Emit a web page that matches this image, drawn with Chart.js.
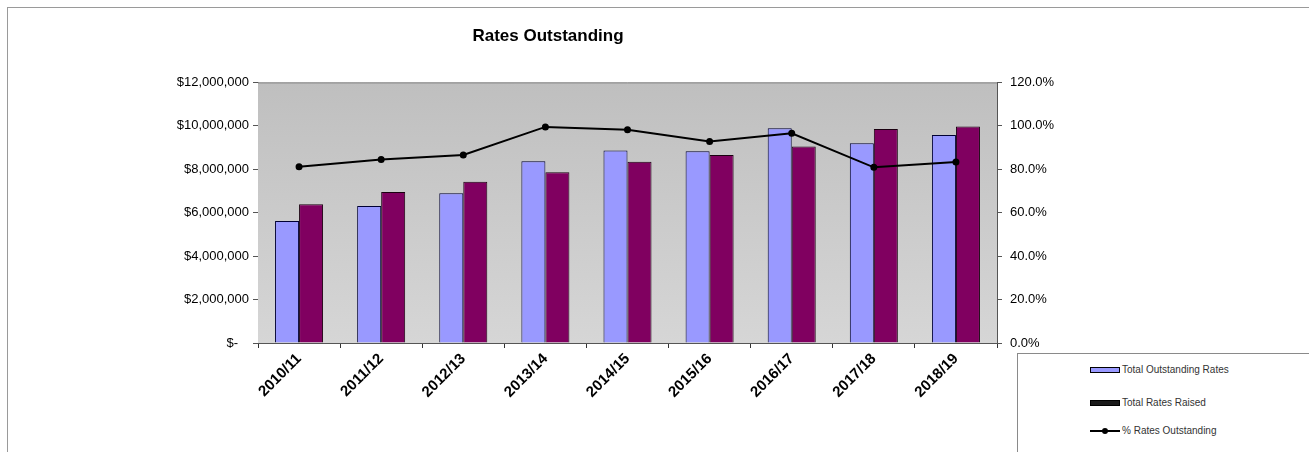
<!DOCTYPE html>
<html>
<head>
<meta charset="utf-8">
<title>Rates Outstanding</title>
<script src="https://cdn.jsdelivr.net/npm/chart.js@4/dist/chart.umd.min.js"></script>
<style>
  html, body { margin: 0; padding: 0; background: #fff; }
  #wrap { position: relative; width: 1309px; height: 452px; overflow: hidden; }
  #frame { position: absolute; left: 7px; top: 7px; width: 1320px; height: 460px;
           border-left: 1px solid #9a9a9a; border-top: 1px solid #9a9a9a; }
  #rates-chart { position: absolute; left: 0; top: 0; }
  #legend { position: absolute; left: 1017px; top: 353px; width: 300px; height: 110px;
            border-left: 1px solid #8a8a8a; border-top: 1px solid #8a8a8a; background: #fff;
            font: 10px "Liberation Sans", Arial, sans-serif; color: #333; }
  .item { position: absolute; left: 72px; height: 12px; line-height: 12px; white-space: nowrap; }
  .swatch { display: inline-block; width: 28px; height: 4px; vertical-align: middle;
            border: 1px solid #000; margin-right: 2px; }
  .lineSwatch { display: inline-block; width: 30px; height: 8px; vertical-align: middle;
                position: relative; margin-right: 2px; }
  .lineSwatch:before { content: ""; position: absolute; left: 0; right: 0; top: 3px; height: 2px; background: #000; }
  .lineSwatch:after { content: ""; position: absolute; left: 12px; top: 1px; width: 6px; height: 6px;
                      border-radius: 50%; background: #000; }
</style>
</head>
<body>
<div id="wrap">
  <div id="frame"></div>
  <canvas id="rates-chart" width="1309" height="452"></canvas>
  <div id="legend"></div>
</div>
<script>
// Financial years along the x axis
const years = ['2010/11', '2011/12', '2012/13', '2013/14', '2014/15', '2015/16', '2016/17', '2017/18', '2018/19'];

// Dollar amounts for each year
const outstandingRates = [5620000, 6310000, 6890000, 8370000, 8860000, 8830000, 9890000, 9200000, 9580000];
const ratesRaised = [6390000, 6950000, 7420000, 7860000, 8350000, 8660000, 9050000, 9850000, 9970000];

// Outstanding as a percentage (right axis)
const pctOutstanding = [81.2, 84.5, 86.6, 99.5, 98.2, 92.8, 96.6, 80.9, 83.4];

// Axis tick values
const dollarTicks = [0, 2000000, 4000000, 6000000, 8000000, 10000000, 12000000];
const pctTicks = [0, 20, 40, 60, 80, 100, 120];

const seriesNames = ['Total Outstanding Rates', 'Total Rates Raised', '% Rates Outstanding'];
const barColours = ['#9999ff', '#800060'];

const fontFamily = '"Liberation Sans", Arial, sans-serif';
const labelFont = { family: fontFamily, size: 13 };

// Grey plot area with a border, drawn before the datasets
const plotBackground = {
    id: 'plotBackground',
    beforeDatasetsDraw(chart) {
        const a = chart.chartArea;
        const ctx = chart.ctx;
        ctx.save();
        const g = ctx.createLinearGradient(0, a.top, 0, a.bottom);
        g.addColorStop(0, '#bfbfbf');
        g.addColorStop(1, '#d6d6d6');
        ctx.fillStyle = g;
        ctx.fillRect(a.left, a.top, a.right - a.left, a.bottom - a.top);
        ctx.strokeStyle = '#808080';
        ctx.lineWidth = 1;
        ctx.beginPath();
        ctx.moveTo(a.left, a.top + 0.5);
        ctx.lineTo(a.right, a.top + 0.5);
        ctx.stroke();
        ctx.restore();
    }
};

// Accounting style: zero shows as a dash
function dollarLabel(v) {
    if (v === 0) return '$-   ';
    return '$' + v.toLocaleString('en-US');
}

const chartConfig = {
    data: {
        labels: years,
        datasets: [
            {
                type: 'line',
                label: seriesNames[2],
                data: pctOutstanding,
                yAxisID: 'y1',
                borderColor: '#000',
                backgroundColor: '#000',
                borderWidth: 2,
                pointRadius: 2.5,
                tension: 0,
                order: 0
            },
            {
                type: 'bar',
                label: seriesNames[0],
                data: outstandingRates,
                yAxisID: 'y',
                backgroundColor: barColours[0],
                borderColor: '#000033',
                borderWidth: 1,
                categoryPercentage: 0.585,
                barPercentage: 1.0,
                order: 1
            },
            {
                type: 'bar',
                label: seriesNames[1],
                data: ratesRaised,
                yAxisID: 'y',
                backgroundColor: barColours[1],
                borderColor: '#1a0010',
                borderWidth: 1,
                categoryPercentage: 0.585,
                barPercentage: 1.0,
                order: 2
            }
        ]
    },
    options: {
        responsive: false,
        animation: false,
        layout: { padding: { left: 10, right: 223, top: 0, bottom: 0 } },
        plugins: {
            legend: { display: false },
            tooltip: { enabled: false },
            title: {
                display: true,
                text: 'Rates Outstanding',
                color: '#000',
                font: { family: fontFamily, size: 17, weight: 'bold' },
                padding: { top: 26, bottom: 36 }
            }
        },
        scales: {
            x: {
                offset: true,
                grid: { offset: true, drawOnChartArea: false, tickLength: 5, color: '#333' },
                border: { color: '#555' },
                ticks: {
                    minRotation: 45, maxRotation: 45, padding: 2, color: '#000',
                    font: { family: fontFamily, size: 15, weight: 'bold' }
                },
                afterFit(s) { s.height = 109; }
            },
            y: {
                position: 'left',
                min: 0,
                max: 12000000,
                afterBuildTicks(s) { s.ticks = dollarTicks.map(v => ({ value: v })); },
                grid: { drawOnChartArea: false, tickLength: 5, color: '#555' },
                border: { color: '#555' },
                ticks: { color: '#000', font: labelFont, padding: 4, callback: dollarLabel },
                afterFit(s) { s.width = 248; }
            },
            y1: {
                position: 'right',
                min: 0,
                max: 120,
                afterBuildTicks(s) { s.ticks = pctTicks.map(v => ({ value: v })); },
                grid: { drawOnChartArea: false, tickLength: 5, color: '#555' },
                border: { color: '#555' },
                ticks: { color: '#000', font: labelFont, padding: 8, callback: v => v.toFixed(1) + '%' },
                afterFit(s) { s.width = 89; }
            }
        }
    },
    plugins: [plotBackground]
};

new Chart(document.getElementById('rates-chart'), chartConfig);

// Legend box in the lower right corner
const legend = document.getElementById('legend');
const rowTops = [10, 43, 71];
seriesNames.forEach(function(name, i) {
    const item = document.createElement('div');
    item.className = 'item';
    item.style.top = rowTops[i] + 'px';
    const mark = document.createElement('span');
    if (i < 2) {
        mark.className = 'swatch';
        mark.style.background = i === 0 ? barColours[0] : '#1a1a1a';
    } else {
        mark.className = 'lineSwatch';
    }
    item.appendChild(mark);
    item.appendChild(document.createTextNode(name));
    legend.appendChild(item);
});
</script>
</body>
</html>
